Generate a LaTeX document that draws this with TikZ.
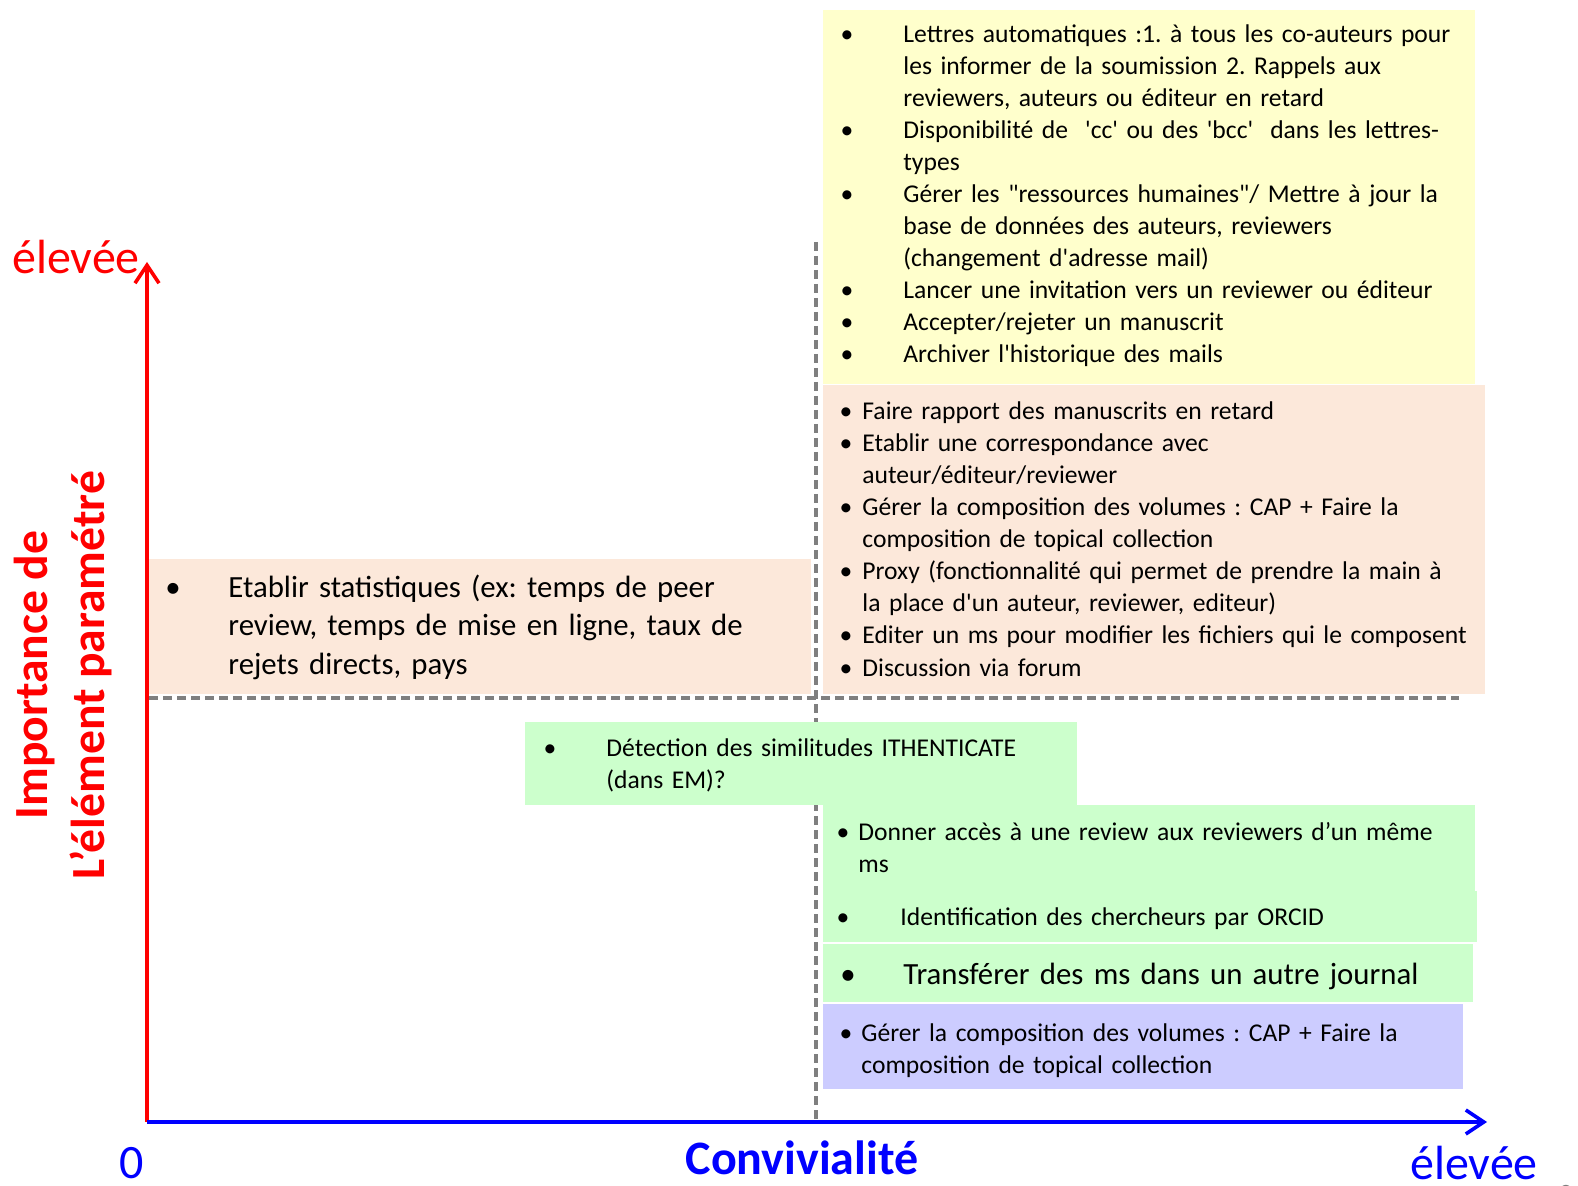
\documentclass[tikz,border=0pt]{standalone}
\usepackage{fontspec}
\setmainfont{Carlito}
\usepackage{xcolor}
\usetikzlibrary{arrows.meta}
\frenchspacing

\definecolor{jaune}{HTML}{FFFFCC}
\definecolor{peche}{HTML}{FCE8DA}
\definecolor{vert}{HTML}{CCFFCC}
\definecolor{mauve}{HTML}{CCCCFF}
\definecolor{trait}{HTML}{7F7F7F}

\begin{document}
\begin{tikzpicture}[x=0.5pt, y=-0.5pt,
  item/.style={anchor=base west, inner sep=0pt, align=left, text width=400pt,
    font=\fontsize{12.8}{16}\selectfont},
  bul/.style={anchor=base, inner sep=0pt, font=\fontsize{12.8}{16}\selectfont},
  grand/.style={font=\fontsize{15.4}{19}\selectfont},
  sep/.style={trait, line width=1.9pt, dash pattern=on 4.5pt off 2.5pt},
  axe/.style={line width=1.8pt, -{Straight Barb[length=9pt, width=12pt, line width=1.8pt]}},
  lab/.style={inner sep=0pt, font=\fontsize{24}{28}\selectfont}]
  \useasboundingbox (0,0) rectangle (1578,1186);

  % separateurs
  \draw[sep] (816,242) -- (816,1122);
  \draw[sep] (149,698) -- (1459,698);

  % cases de couleur
  \fill[jaune] (823,10) rectangle (1475,384);
  \fill[peche] (823,385) rectangle (1485,694);
  \fill[peche] (149,559) rectangle (811,694);
  \fill[vert] (525,722) rectangle (1077,805);
  \fill[vert] (823,805) rectangle (1475,891);
  \fill[vert] (823,891) rectangle (1477,942);
  \fill[vert] (823,944) rectangle (1473,1002);
  \fill[mauve] (823,1004) rectangle (1463,1089);

  % axes
  \coordinate (O) at (147,1122);
  \coordinate (ymax) at (147,262);
  \coordinate (xmax) at (1487,1122);
  \draw[axe, red] (O) -- (ymax);
  \draw[axe, blue] (O) -- (xmax);

  \node[lab, text=red] (hautY) at (76,257) {élevée};
  \node[lab, text=blue] (zero) at (132,1163) {0};
  \node[lab, text=blue] (hautX) at (1474,1163) {élevée};
  \node[lab, text=blue, font=\fontsize{24}{28}\selectfont\bfseries] (conv) at (802,1158) {Convivialité};
  \node[rotate=90, align=center, text=red, inner sep=0pt,
    font=\fontsize{23.8}{28.5}\selectfont\bfseries] (imp) at (63,675)
    {Importance de\\ L’élément paramétré};
  \node[text=trait, inner sep=0pt, font=\fontsize{14}{16}\selectfont] (num) at (1566,1195) {0};

  % case jaune
  \foreach \y in {43,139,203,299,331,363}
    \node[bul] (bj\y) at (847,\y) {\textbullet};
  \node[item] (j1) at (903,43) {Lettres automatiques :1. à tous les co-auteurs pour\\
    les informer de la soumission 2. Rappels aux\\ reviewers, auteurs ou éditeur en retard};
  \node[item] (j2) at (903,139) {Disponibilité de\ \ \textquotesingle cc\textquotesingle{} ou des
    \textquotesingle bcc\textquotesingle\ \ dans les lettres-\\ types};
  \node[item] (j3) at (903,203) {Gérer les \textquotedbl ressources humaines\textquotedbl/ Mettre à jour la\\
    base de données des auteurs, reviewers\\ (changement d\textquotesingle adresse mail)};
  \node[item] (j4) at (903,299) {Lancer une invitation vers un reviewer ou éditeur};
  \node[item] (j5) at (903,331) {Accepter/rejeter un manuscrit};
  \node[item] (j6) at (903,363) {Archiver l\textquotesingle historique des mails};

  % case peche droite
  \foreach \y in {420,452,516,580,644,676}
    \node[bul] (bp\y) at (846,\y) {\textbullet};
  \node[item] (p1) at (862,420) {Faire rapport des manuscrits en retard};
  \node[item] (p2) at (862,452) {Etablir une correspondance avec\\ auteur/éditeur/reviewer};
  \node[item] (p3) at (862,516) {Gérer la composition des volumes : CAP + Faire la\\
    composition de topical collection};
  \node[item] (p4) at (862,580) {Proxy (fonctionnalité qui permet de prendre la main à\\
    la place d\textquotesingle un auteur, reviewer, editeur)};
  \node[item] (p5) at (862,644) {Editer un ms pour modifier les fichiers qui le composent};
  \node[item] (p6) at (862,676) {Discussion via forum};

  % case peche gauche
  \node[bul, grand] (bs) at (173,598) {\textbullet};
  \node[item, grand] (stat) at (228,598) {Etablir statistiques (ex: temps de peer\\
    review, temps de mise en ligne, taux de\\ rejets directs, pays};

  % cases vertes
  \node[bul] (bv1) at (550,756) {\textbullet};
  \node[item] (v1) at (606,756) {Détection des similitudes ITHENTICATE\\ (dans EM)?};
  \node[bul] (bv2) at (843,840) {\textbullet};
  \node[item] (v2) at (858,840) {Donner accès à une review aux reviewers d’un même\\ ms};
  \node[bul] (bv3) at (843,925) {\textbullet};
  \node[item] (v3) at (900,925) {Identification des chercheurs par ORCID};
  \node[bul, grand] (bv4) at (848,984) {\textbullet};
  \node[item, grand] (v4) at (903,984) {Transférer des ms dans un autre journal};

  % case mauve
  \node[bul] (bm) at (846,1041) {\textbullet};
  \node[item] (m1) at (861,1041) {Gérer la composition des volumes : CAP + Faire la\\
    composition de topical collection};
\end{tikzpicture}
\end{document}
